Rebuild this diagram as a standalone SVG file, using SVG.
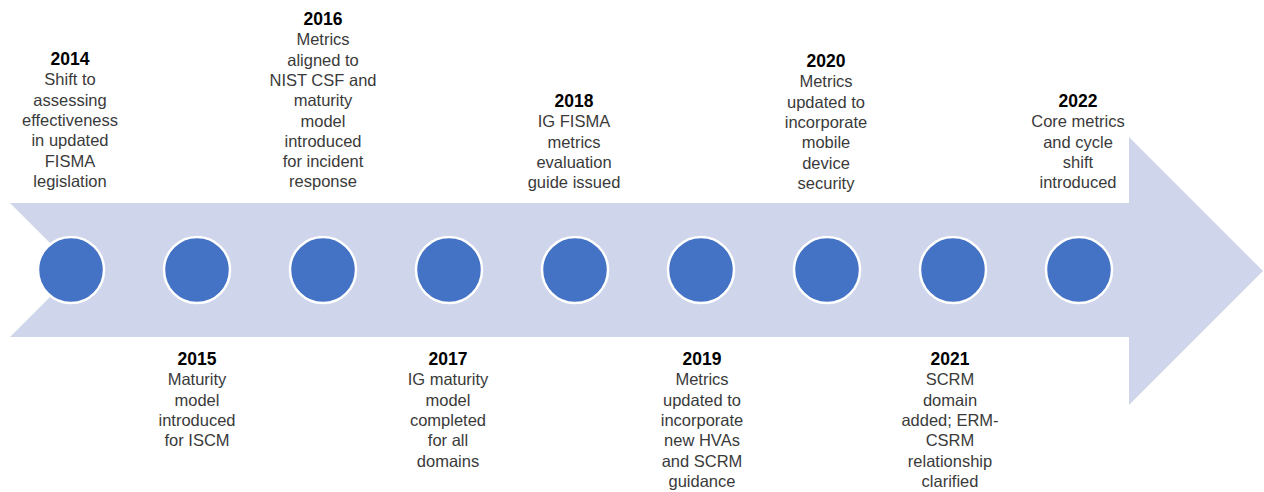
<svg xmlns="http://www.w3.org/2000/svg" width="1264" height="492" viewBox="0 0 1264 492">
<style>
.arrow{fill:#CFD5EA}
.dot{fill:#4472C4;stroke:#FFFFFF;stroke-width:2.5}
text{font-family:"Liberation Sans",Arial,sans-serif;text-anchor:middle}
.yr{font-size:17.5px;font-weight:bold;fill:#000000}
.tx{font-size:16.5px;fill:#3a3a3a}
</style>
<rect width="1264" height="492" fill="#FFFFFF"/>
<g id="timeline-arrow">
<polygon class="arrow" points="10,203 1129,203 1129,137 1263,271 1129,405 1129,337 10,337 77,270"/>
</g>
<g id="connectors"></g>
<g id="n2014">
<circle class="dot" cx="71" cy="270" r="33"/>
<text x="70" y="65"><tspan class="yr">2014</tspan><tspan class="tx" x="70" dy="20.3">Shift to</tspan><tspan class="tx" x="70" dy="20.3">assessing</tspan><tspan class="tx" x="70" dy="20.3">effectiveness</tspan><tspan class="tx" x="70" dy="20.3">in updated</tspan><tspan class="tx" x="70" dy="20.3">FISMA</tspan><tspan class="tx" x="70" dy="20.3">legislation</tspan></text>
</g>
<g id="n2015">
<circle class="dot" cx="197" cy="270" r="33"/>
<text x="197" y="365"><tspan class="yr">2015</tspan><tspan class="tx" x="197" dy="20.3">Maturity</tspan><tspan class="tx" x="197" dy="20.3">model</tspan><tspan class="tx" x="197" dy="20.3">introduced</tspan><tspan class="tx" x="197" dy="20.3">for ISCM</tspan></text>
</g>
<g id="n2016">
<circle class="dot" cx="323" cy="270" r="33"/>
<text x="323" y="25"><tspan class="yr">2016</tspan><tspan class="tx" x="323" dy="20.3">Metrics</tspan><tspan class="tx" x="323" dy="20.3">aligned to</tspan><tspan class="tx" x="323" dy="20.3">NIST CSF and</tspan><tspan class="tx" x="323" dy="20.3">maturity</tspan><tspan class="tx" x="323" dy="20.3">model</tspan><tspan class="tx" x="323" dy="20.3">introduced</tspan><tspan class="tx" x="323" dy="20.3">for incident</tspan><tspan class="tx" x="323" dy="20.3">response</tspan></text>
</g>
<g id="n2017">
<circle class="dot" cx="449" cy="270" r="33"/>
<text x="448" y="365"><tspan class="yr">2017</tspan><tspan class="tx" x="448" dy="20.3">IG maturity</tspan><tspan class="tx" x="448" dy="20.3">model</tspan><tspan class="tx" x="448" dy="20.3">completed</tspan><tspan class="tx" x="448" dy="20.3">for all</tspan><tspan class="tx" x="448" dy="20.3">domains</tspan></text>
</g>
<g id="n2018">
<circle class="dot" cx="575" cy="270" r="33"/>
<text x="574" y="107"><tspan class="yr">2018</tspan><tspan class="tx" x="574" dy="20.3">IG FISMA</tspan><tspan class="tx" x="574" dy="20.3">metrics</tspan><tspan class="tx" x="574" dy="20.3">evaluation</tspan><tspan class="tx" x="574" dy="20.3">guide issued</tspan></text>
</g>
<g id="n2019">
<circle class="dot" cx="701" cy="270" r="33"/>
<text x="702" y="365"><tspan class="yr">2019</tspan><tspan class="tx" x="702" dy="20.3">Metrics</tspan><tspan class="tx" x="702" dy="20.3">updated to</tspan><tspan class="tx" x="702" dy="20.3">incorporate</tspan><tspan class="tx" x="702" dy="20.3">new HVAs</tspan><tspan class="tx" x="702" dy="20.3">and SCRM</tspan><tspan class="tx" x="702" dy="20.3">guidance</tspan></text>
</g>
<g id="n2020">
<circle class="dot" cx="827" cy="270" r="33"/>
<text x="826" y="67"><tspan class="yr">2020</tspan><tspan class="tx" x="826" dy="20.3">Metrics</tspan><tspan class="tx" x="826" dy="20.3">updated to</tspan><tspan class="tx" x="826" dy="20.3">incorporate</tspan><tspan class="tx" x="826" dy="20.3">mobile</tspan><tspan class="tx" x="826" dy="20.3">device</tspan><tspan class="tx" x="826" dy="20.3">security</tspan></text>
</g>
<g id="n2021">
<circle class="dot" cx="953" cy="270" r="33"/>
<text x="950" y="365"><tspan class="yr">2021</tspan><tspan class="tx" x="950" dy="20.3">SCRM</tspan><tspan class="tx" x="950" dy="20.3">domain</tspan><tspan class="tx" x="950" dy="20.3">added; ERM-</tspan><tspan class="tx" x="950" dy="20.3">CSRM</tspan><tspan class="tx" x="950" dy="20.3">relationship</tspan><tspan class="tx" x="950" dy="20.3">clarified</tspan></text>
</g>
<g id="n2022">
<circle class="dot" cx="1079" cy="270" r="33"/>
<text x="1078" y="107"><tspan class="yr">2022</tspan><tspan class="tx" x="1078" dy="20.3">Core metrics</tspan><tspan class="tx" x="1078" dy="20.3">and cycle</tspan><tspan class="tx" x="1078" dy="20.3">shift</tspan><tspan class="tx" x="1078" dy="20.3">introduced</tspan></text>
</g>
</svg>
